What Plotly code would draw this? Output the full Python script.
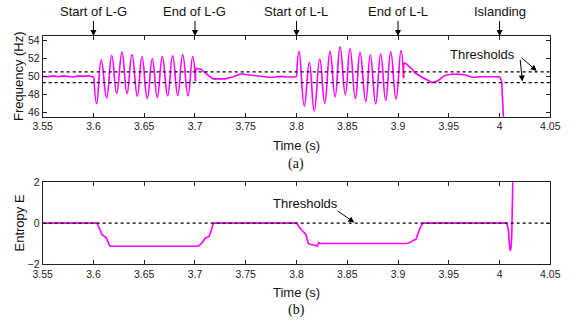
import plotly.graph_objects as go

# ---------------- data ----------------
# Frequency (Hz) trace, split into segments
pre_t = [3.55, 3.555, 3.56, 3.565, 3.57, 3.575, 3.58, 3.585, 3.59, 3.595, 3.6, 3.6004]
pre_f = [50.0, 49.95, 50.05, 49.95, 50.05, 50.0, 49.93, 50.05, 50.0, 50.06, 49.95, 49.9]

lg_t = [3.6004, 3.6032, 3.6077, 3.613, 3.618, 3.6229, 3.6281, 3.633, 3.638, 3.6432,
        3.6478, 3.653, 3.658, 3.6629, 3.6678, 3.6731, 3.678, 3.683, 3.6879, 3.6931,
        3.6977, 3.7005]
lg_f = [49.9, 46.94, 51.82, 47.58, 52.33, 48.1, 52.71, 48.06, 52.4, 47.8,
        52.19, 47.53, 51.96, 47.65, 52.19, 47.83, 52.3, 47.87, 52.41, 47.83,
        52.22, 49.45]

post_lg_t = [3.7005, 3.7006, 3.703, 3.706, 3.709, 3.712, 3.715, 3.718, 3.722, 3.726,
             3.73, 3.734, 3.738, 3.742, 3.746, 3.75, 3.754, 3.758, 3.762, 3.766,
             3.77, 3.775, 3.78, 3.785, 3.79, 3.795, 3.7995, 3.8]
post_lg_f = [49.45, 50.88, 50.85, 50.8, 50.5, 50.2, 49.95, 49.72, 49.7, 49.75,
             49.72, 49.85, 49.95, 50.15, 50.29, 50.2, 50.15, 50.1, 50.05, 50.0,
             49.92, 49.87, 49.95, 50.0, 49.92, 49.95, 49.9, 49.95]

ll_t = [3.8, 3.8025, 3.8077, 3.8126, 3.8175, 3.8229, 3.8278, 3.833, 3.838, 3.8429,
        3.8481, 3.8527, 3.858, 3.8626, 3.8682, 3.8727, 3.878, 3.8829, 3.8879, 3.8928,
        3.898, 3.9029, 3.9055]
ll_f = [49.95, 52.78, 46.68, 51.55, 46.13, 51.93, 47.02, 52.78, 47.72, 53.3,
        47.95, 53.08, 47.5, 52.67, 47.2, 52.38, 46.94, 52.52, 47.31, 52.75,
        47.47, 52.89, 49.8]

post_ll_t = [3.9055, 3.9056, 3.908, 3.911, 3.914, 3.9168, 3.921, 3.925, 3.929, 3.9332,
             3.9365, 3.9397, 3.943, 3.9463, 3.951, 3.9561, 3.961, 3.966, 3.97, 3.9742,
             3.98, 3.9857, 3.99, 3.995, 4.0, 4.0021, 4.0037, 4.006]
post_ll_f = [49.8, 51.48, 51.4, 51.1, 50.8, 50.37, 50.05, 49.81, 49.6, 49.32,
             49.38, 49.54, 49.85, 50.1, 50.2, 50.26, 50.22, 50.18, 50.0, 49.88,
             49.95, 49.92, 49.9, 49.95, 49.96, 49.43, 45.7, 42.0]

freq_thresholds = [50.5, 49.3]

# Entropy E trace
ent_t = [3.55, 3.6036, 3.6087, 3.6105, 3.6124, 3.6163, 3.617, 3.7033, 3.7072, 3.7099,
         3.7138, 3.7155, 3.718, 3.8002, 3.8034, 3.806, 3.8094, 3.8116, 3.814, 3.8182,
         3.8205, 3.8219, 3.8238, 3.9086, 3.9118, 3.9145, 3.9177, 3.921, 3.9243, 4.0071,
         4.0087, 4.0098, 4.0106, 4.0113, 4.012, 4.013, 4.0136]
ent_e = [0.0, 0.0, -0.58, -0.64, -0.71, -1.12, -1.13, -1.13, -0.95, -0.74,
         -0.66, -0.45, 0.0, 0.0, -0.25, -0.37, -0.58, -0.99, -1.05, -1.08,
         -1.12, -0.95, -1.0, -1.0, -0.95, -0.86, -0.79, -0.33, 0.0, 0.0,
         -0.33, -1.1, -1.36, -1.2, -0.66, 1.96, 3.0]
ent_threshold = [0.0]

# Events
event_times = [3.6, 3.7, 3.8, 3.9, 4.0]
event_labels = ["Start of L-G", "End of L-G", "Start of L-L", "End of L-L", "Islanding"]

# Ticks
x_tickvals = [3.55, 3.6, 3.65, 3.7, 3.75, 3.8, 3.85, 3.9, 3.95, 4.0, 4.05]
x_ticktext = ["3.55", "3.6", "3.65", "3.7", "3.75", "3.8", "3.85", "3.9", "3.95", "4", "4.05"]
f_tickvals = [46, 48, 50, 52, 54]
e_tickvals = [-2, 0, 2]

# ---------------- figure ----------------
MAG = "#ff00ff"
SANS = "Liberation Sans, Arial, sans-serif"
SERIF = "Liberation Serif, Times New Roman, serif"
TXT = "#111"

fig = go.Figure()

segments = [(pre_t, pre_f, "linear"), (lg_t, lg_f, "spline"), (post_lg_t, post_lg_f, "linear"),
            (ll_t, ll_f, "spline"), (post_ll_t, post_ll_f, "linear")]
for tt, ff, shape in segments:
    fig.add_trace(go.Scatter(x=tt, y=ff, mode="lines", xaxis="x", yaxis="y",
                             line=dict(color=MAG, width=1.6, shape=shape, smoothing=1.3),
                             showlegend=False, hoverinfo="skip"))
for th in freq_thresholds:
    fig.add_trace(go.Scatter(x=[3.55, 4.05], y=[th, th], mode="lines", xaxis="x", yaxis="y",
                             line=dict(color="black", width=1.3, dash="dot"),
                             showlegend=False, hoverinfo="skip"))

fig.add_trace(go.Scatter(x=ent_t, y=ent_e, mode="lines", xaxis="x2", yaxis="y2",
                         line=dict(color=MAG, width=1.6),
                         showlegend=False, hoverinfo="skip"))
for th in ent_threshold:
    fig.add_trace(go.Scatter(x=[3.55, 4.05], y=[th, th], mode="lines", xaxis="x2", yaxis="y2",
                             line=dict(color="black", width=1.3, dash="dot"),
                             showlegend=False, hoverinfo="skip"))

axis_common = dict(showline=True, linecolor="#222", linewidth=1, mirror="ticks",
                   ticks="inside", ticklen=4, tickcolor="#222", showgrid=False, zeroline=False,
                   tickfont=dict(family=SANS, size=10.5, color="#222"))

fig.update_layout(
    width=576, height=326,
    margin=dict(l=0, r=0, t=0, b=0, autoexpand=False),
    paper_bgcolor="white", plot_bgcolor="white",
    xaxis=dict(domain=[0.0741, 0.9554], range=[3.55, 4.05], tickvals=x_tickvals,
               ticktext=x_ticktext, anchor="y", **axis_common),
    yaxis=dict(domain=[0.642, 0.8896], range=[45.5, 54.5], tickvals=f_tickvals,
               anchor="x", **axis_common),
    xaxis2=dict(domain=[0.0741, 0.9554], range=[3.55, 4.05], tickvals=x_tickvals,
                ticktext=x_ticktext, anchor="y2", **axis_common),
    yaxis2=dict(domain=[0.1902, 0.4408], range=[-2, 2], tickvals=e_tickvals,
                anchor="x2", **axis_common),
)

ARW = dict(showarrow=True, arrowhead=2, arrowsize=1.2, arrowwidth=1, arrowcolor="black")
ann = []
for t, lab in zip(event_times, event_labels):
    ann.append(dict(x=t, y=54.5, xref="x", yref="y", text=lab, ax=0, ay=-24,
                    font=dict(family=SANS, size=13, color=TXT), **ARW))
# thresholds (top)
ann.append(dict(x=3.9834, y=52.41, xref="x", yref="y", text="Thresholds", showarrow=False,
                xanchor="center", yanchor="middle", font=dict(family=SANS, size=13, color=TXT)))
ann.append(dict(x=4.0366, y=50.6, xref="x", yref="y", text="",
                ax=4.0202, ay=52.22, axref="x", ayref="y", **ARW))
ann.append(dict(x=4.0225, y=49.43, xref="x", yref="y", text="",
                ax=4.0202, ay=52.0, axref="x", ayref="y", **ARW))
# thresholds (bottom)
ann.append(dict(x=3.8089, y=0.97, xref="x2", yref="y2", text="Thresholds", showarrow=False,
                xanchor="center", yanchor="middle", font=dict(family=SANS, size=13, color=TXT)))
ann.append(dict(x=3.857, y=0.03, xref="x2", yref="y2", text="",
                ax=3.8389, ay=0.65, axref="x2", ayref="y2", **ARW))
# axis titles and panel labels
def paper_text(px, py, text, family=SANS, size=13, angle=0):
    return dict(x=px / 576, y=1 - py / 326, xref="paper", yref="paper", text=text,
                showarrow=False, xanchor="center", yanchor="middle", textangle=angle,
                font=dict(family=family, size=size, color=TXT))

ann.append(paper_text(296, 145, "Time (s)"))
ann.append(paper_text(296, 163.5, "(a)", family=SERIF, size=14))
ann.append(paper_text(296, 292, "Time (s)"))
ann.append(paper_text(296, 310, "(b)", family=SERIF, size=14))
ann.append(paper_text(18.5, 76.5, "Frequency (Hz)", angle=-90))
ann.append(paper_text(18.5, 223, "Entropy E", angle=-90))
fig.update_layout(annotations=ann)

fig.write_html("out.html", config={"displayModeBar": False},
               post_script="document.body.style.margin='0';document.body.style.overflow='hidden';")
